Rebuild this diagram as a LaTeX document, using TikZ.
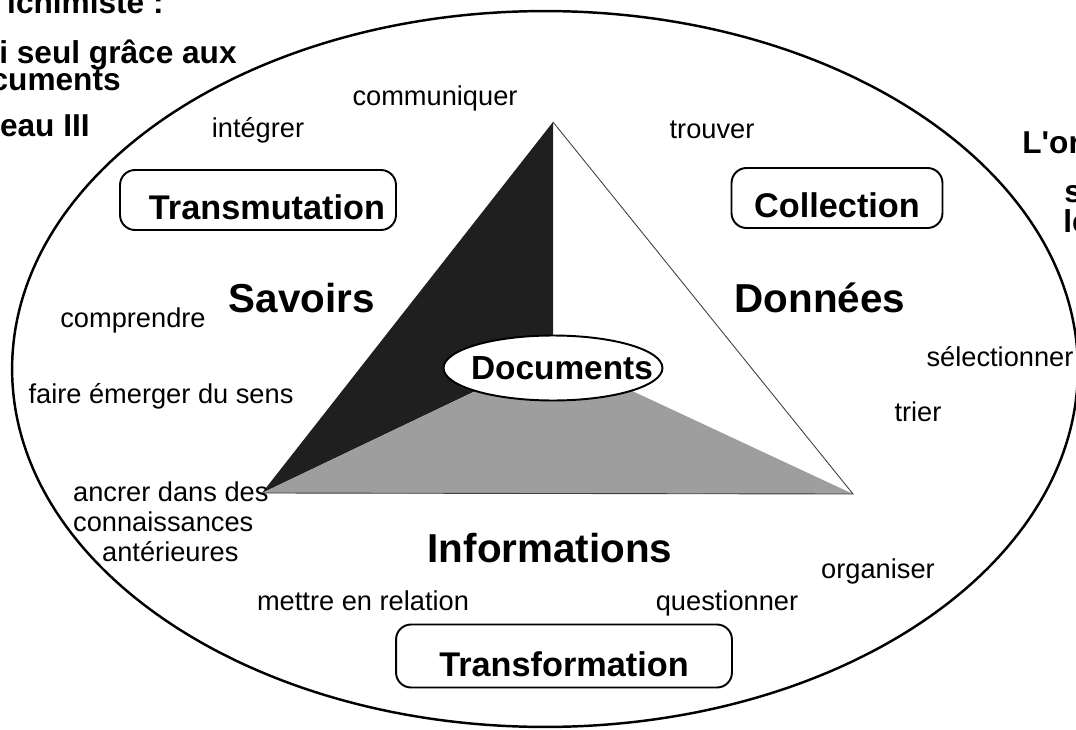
\documentclass[tikz,border=0pt]{standalone}
\usepackage{fontspec}
\setmainfont{Liberation Sans}
\usetikzlibrary{shapes.geometric}

\begin{document}
\begin{tikzpicture}[x=0.02cm, y=-0.02cm,
	verb/.style={font=\fontsize{15.5}{17}\selectfont},
	pole/.style={font=\bfseries\fontsize{23}{27}\selectfont},
	phase/.style={draw, line width=1.1pt, rounded corners=0.3cm, minimum height=1.2cm,
		text height=0.8cm, text depth=0pt, font=\bfseries\fontsize{19.5}{22}\selectfont},
	margin/.style={inner sep=0pt, font=\bfseries\fontsize{18}{21}\selectfont}]
\useasboundingbox (0,0) rectangle (1076,730);
\clip (0,0) rectangle (1076,730);
\coordinate (apex) at (553,122);
\coordinate (left) at (262,493);
\coordinate (right) at (853,494);
\coordinate (mid) at (553,354);
\fill[black!88] (apex) -- (left) -- (mid) -- cycle;
\fill[black!38] (left) -- (right) -- (mid) -- cycle;
\draw[black!75, line width=0.5pt] (apex) -- (right) -- (left);
\draw[line width=1.4pt] (545,369) ellipse [x radius=10.66cm, y radius=7.16cm];
\node[draw, fill=white, ellipse, line width=1.1pt, minimum width=4.38cm, minimum height=1.3cm,
	inner sep=0pt, text height=0.47cm, text depth=0pt,
	font=\bfseries\fontsize{19}{22}\selectfont] (documents) at (553,368)
	{\makebox[0pt]{\hspace{0.36cm}Documents}};
\node[phase, minimum width=5.52cm, inner xsep=0.22cm, text width=5.08cm, align=flush right]
	(transmutation) at (258,200) {Transmutation};
\node[phase, minimum width=4.22cm] (collection) at (837,198) {Collection};
\node[phase, minimum width=6.72cm, minimum height=1.26cm] (transformation) at (564,656) {Transformation};
\node[pole] (savoirs) at (302,298) {Savoirs};
\node[pole] (donnees) at (820,298) {Données};
\node[pole] (informations) at (550,548) {Informations};
\node[verb] (communiquer) at (435,98) {communiquer};
\node[verb] (integrer) at (258,130) {intégrer};
\node[verb] (trouver) at (712,130) {trouver};
\node[verb] (comprendre) at (133,320) {comprendre};
\node[verb] (emerger) at (161,396) {faire émerger du sens};
\node[verb] (selectionner) at (1000,357) {sélectionner};
\node[verb] (trier) at (918,412) {trier};
\node[verb, align=left, anchor=west] (ancrer) at (67,522)
	{ancrer dans des\\connaissances\\\hspace{0.58cm}antérieures};
\node[verb] (organiser) at (878,571) {organiser};
\node[verb] (relation) at (363,601) {mettre en relation};
\node[verb] (questionner) at (727,603) {questionner};
\node[margin, anchor=base east] (alchimiste) at (164,13) {lchimiste :};
\node[margin, anchor=base east] (seul) at (237,63) {i seul grâce aux};
\node[margin, anchor=base east] (cuments) at (121,91) {cuments};
\node[margin, anchor=base east] (niveau) at (90,136) {eau III};
\node[margin, anchor=base west] (orpailleur) at (1022,153) {L\textquotesingle or};
\node[margin, anchor=base west] (ligne) at (1064,202) {s};
\node[margin, anchor=base west] (les) at (1063,232) {le};
\end{tikzpicture}
\end{document}
